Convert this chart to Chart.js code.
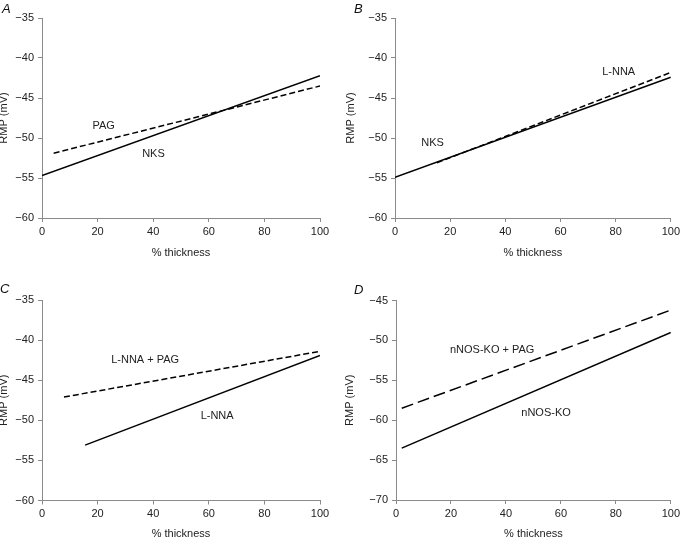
<!DOCTYPE html>
<html>
<head>
<meta charset="utf-8">
<script src="https://cdn.jsdelivr.net/npm/chart.js@4.4.1/dist/chart.umd.min.js"></script>
<style>
  html, body { margin: 0; padding: 0; background: #fff; }
  body { width: 683px; height: 539px; position: relative; overflow: hidden; font-family: "Liberation Sans", Arial, sans-serif; }
  .panel { position: absolute; }
  .letter { position: absolute; font: italic 13px "Liberation Sans", Arial, sans-serif; line-height: 1; color: #111; }
</style>
</head>
<body>
<div class="panel" id="pA" style="left:-3px;top:0;width:344px;height:270px"><canvas id="cA"></canvas></div>
<div class="panel" id="pB" style="left:341px;top:0;width:342px;height:270px"><canvas id="cB"></canvas></div>
<div class="panel" id="pC" style="left:-3px;top:270px;width:344px;height:269px"><canvas id="cC"></canvas></div>
<div class="panel" id="pD" style="left:341px;top:270px;width:342px;height:269px"><canvas id="cD"></canvas></div>
<div class="letter" style="left:2px;top:1.5px">A</div>
<div class="letter" style="left:354px;top:1.5px">B</div>
<div class="letter" style="left:0px;top:282px">C</div>
<div class="letter" style="left:354px;top:283px">D</div>
<script>
// ---- data (x = % thickness, y = RMP mV) ----
const xTicks = [0, 20, 40, 60, 80, 100];
const yTicksABC = [-60, -55, -50, -45, -40, -35];
const yTicksD = [-70, -65, -60, -55, -50, -45];

const A_NKS_X = [0, 100];     const A_NKS_Y = [-54.7, -42.2];
const A_PAG_X = [4.2, 100];   const A_PAG_Y = [-51.9, -43.5];

const B_NKS_X = [0, 100];     const B_NKS_Y = [-54.9, -42.4];
const B_LNNA_X = [15.2, 100]; const B_LNNA_Y = [-53.1, -41.8];

const C_PAG_X = [7.9, 100];   const C_PAG_Y = [-47.1, -41.4];
const C_LNNA_X = [15.5, 100]; const C_LNNA_Y = [-53.1, -41.9];

const D_PAG_X = [2.1, 100];   const D_PAG_Y = [-58.5, -46.2];
const D_KO_X = [2.1, 100];    const D_KO_Y = [-63.5, -49.0];

// in-plot labels: text, x, y (data coordinates)
const A_LABELS = [["PAG", 22.2, -48.5], ["NKS", 40.1, -52.0]];
const B_LABELS = [["L-NNA", 81.1, -41.7], ["NKS", 13.6, -50.6]];
const C_LABELS = [["L-NNA + PAG", 37.1, -42.5], ["L-NNA", 63.0, -49.4]];
const D_LABELS = [["nNOS-KO + PAG", 35.0, -51.2], ["nNOS-KO", 54.6, -59.1]];

const FONT = "'Liberation Sans', Arial, sans-serif";
const AXIS_COLOR = "#8a8a8a";
const TEXT_COLOR = "#222";

function pts(xs, ys) { return xs.map((x, i) => ({ x: x, y: ys[i] })); }
function minusFmt(v) { return v < 0 ? "\u2212" + Math.abs(v) : String(v); }

const labelPlugin = {
  id: "inlabels",
  afterDatasetsDraw(chart, args, opts) {
    const ctx = chart.ctx;
    const xs = chart.scales.x, ys = chart.scales.y;
    ctx.save();
    ctx.font = "11px " + FONT;
    ctx.fillStyle = TEXT_COLOR;
    ctx.textAlign = "center";
    ctx.textBaseline = "middle";
    (opts.items || []).forEach(it => {
      ctx.fillText(it[0], xs.getPixelForValue(it[1]), ys.getPixelForValue(it[2]));
    });
    ctx.restore();
  }
};

function makePanel(id, cfg) {
  const lineDs = (xs, ys, dash) => ({
    data: pts(xs, ys),
    showLine: true,
    borderColor: "#000",
    borderWidth: 1.5,
    borderDash: dash,
    pointRadius: 0,
    fill: false,
    tension: 0
  });
  new Chart(document.getElementById(id), {
    type: "scatter",
    data: { datasets: cfg.series.map(s => lineDs(s[0], s[1], s[2])) },
    plugins: [labelPlugin],
    options: {
      responsive: true,
      maintainAspectRatio: false,
      animation: false,
      events: [],
      layout: { padding: { left: 0, top: cfg.padTop, right: cfg.padRight, bottom: 0 } },
      plugins: {
        legend: { display: false },
        tooltip: { enabled: false },
        inlabels: { items: cfg.labels }
      },
      scales: {
        x: {
          type: "linear",
          min: 0, max: 100,
          afterBuildTicks: s => { s.ticks = xTicks.map(v => ({ value: v })); },
          afterFit: s => { s.height = cfg.xHeight; },
          ticks: { color: TEXT_COLOR, font: { family: FONT, size: 11 }, padding: 3, maxRotation: 0, callback: v => String(v) },
          grid: { display: true, drawOnChartArea: false, drawTicks: true, tickLength: 4, color: AXIS_COLOR, lineWidth: 1 },
          border: { display: true, color: AXIS_COLOR, width: 1 },
          title: { display: true, text: "% thickness", color: TEXT_COLOR, font: { family: FONT, size: 11 }, padding: { top: 0, bottom: cfg.xTitlePad } }
        },
        y: {
          type: "linear",
          min: cfg.yTicks[0], max: cfg.yTicks[cfg.yTicks.length - 1],
          afterBuildTicks: s => { s.ticks = cfg.yTicks.map(v => ({ value: v })); },
          afterFit: s => { s.width = cfg.yWidth; },
          ticks: { color: TEXT_COLOR, font: { family: FONT, size: 11 }, padding: 4, callback: v => minusFmt(v) },
          grid: { display: true, drawOnChartArea: false, drawTicks: true, tickLength: 4, color: AXIS_COLOR, lineWidth: 1 },
          border: { display: true, color: AXIS_COLOR, width: 1 },
          title: { display: true, text: "RMP (mV)", color: TEXT_COLOR, font: { family: FONT, size: 11 }, padding: { top: cfg.yTitlePad, bottom: 0 } }
        }
      }
    }
  });
}

makePanel("cA", {
  series: [[A_NKS_X, A_NKS_Y, []], [A_PAG_X, A_PAG_Y, [6, 3]]],
  labels: A_LABELS, yTicks: yTicksABC,
  padTop: 18, padRight: 21, xHeight: 52, yWidth: 45, xTitlePad: 10, yTitlePad: 0
});
makePanel("cB", {
  series: [[B_NKS_X, B_NKS_Y, []], [B_LNNA_X, B_LNNA_Y, [6, 3]]],
  labels: B_LABELS, yTicks: yTicksABC,
  padTop: 18, padRight: 9, xHeight: 52, yWidth: 54, xTitlePad: 10, yTitlePad: 3
});
makePanel("cC", {
  series: [[C_LNNA_X, C_LNNA_Y, []], [C_PAG_X, C_PAG_Y, [6, 3]]],
  labels: C_LABELS, yTicks: yTicksABC,
  padTop: 30, padRight: 21, xHeight: 38.5, yWidth: 45, xTitlePad: -1.5, yTitlePad: 0
});
makePanel("cD", {
  series: [[D_KO_X, D_KO_Y, []], [D_PAG_X, D_PAG_Y, [12, 5]]],
  labels: D_LABELS, yTicks: yTicksD,
  padTop: 30.5, padRight: 9, xHeight: 39, yWidth: 55, xTitlePad: -1.5, yTitlePad: 2.4
});
</script>
</body>
</html>
